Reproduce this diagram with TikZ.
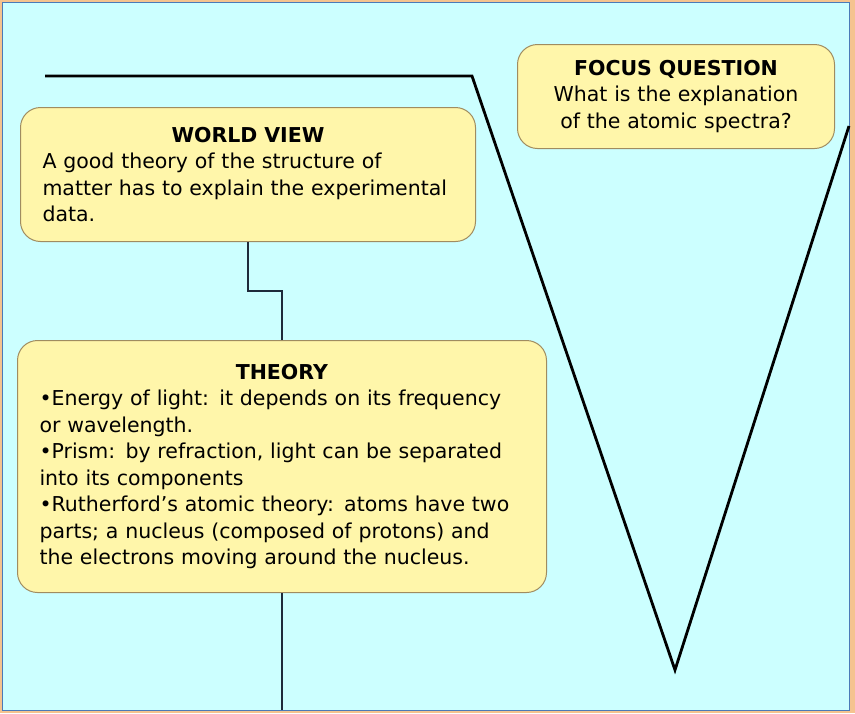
\documentclass[tikz,border=0pt]{standalone}
\usepackage{fontspec}
\setmainfont{DejaVu Sans}
\usetikzlibrary{positioning}

\definecolor{bgcyan}{HTML}{CCFFFF}
\definecolor{frameorange}{HTML}{F5C38F}
\definecolor{frameblue}{HTML}{4A7AB8}
\definecolor{boxfill}{HTML}{FFF6AA}
\definecolor{boxline}{HTML}{A08C60}
\definecolor{linkline}{HTML}{1E2A3A}

\tikzset{
  vebox/.style={draw=boxline,fill=boxfill,line width=1pt,rounded corners=20pt,
    inner xsep=22pt,inner ysep=6pt,font=\fontsize{20.5}{26.5}\selectfont},
  link/.style={draw=linkline,line width=1.4pt},
  vline/.style={draw=black,line width=2.8pt,line join=miter}
}

\begin{document}
\begin{tikzpicture}[x=1pt,y=-1pt]
  \useasboundingbox (0,0) rectangle (855,713);
  % frame
  \fill[frameorange] (0,0) rectangle (855,713);
  \draw[frameblue,line width=1.5pt,fill=bgcyan] (2.5,2.5) rectangle (849.5,710.5);

  % the V
  \coordinate (vleft) at (45,76);
  \coordinate (vtop) at (472,76);
  \coordinate (vtip) at (675,670);
  \coordinate (vright) at (849,126);
  \draw[vline] (vleft) -- (vtop) -- (vtip) -- (vright);

  % boxes
  \node[vebox,anchor=north west,text width=273pt,minimum height=104pt,align=center]
    (focus) at (517,44) {\textbf{FOCUS QUESTION}\\What is the explanation\\of the atomic spectra?};
  \node[vebox,anchor=north west,text width=411pt,minimum height=134pt]
    (world) at (20,107) {{\centering\textbf{WORLD VIEW}\par}\raggedright
    A good theory of the structure of\\ matter has to explain the experimental\\ data.};
  \node[vebox,anchor=north west,text width=485pt,minimum height=252pt]
    (theory) at (17,340) {{\centering\textbf{THEORY}\par}\raggedright
    •Energy of light: it depends on its frequency\\ or wavelength.\\
    •Prism: by refraction, light can be separated\\ into its components\\
    •Rutherford’s atomic theory: atoms have two\\ parts; a nucleus (composed of protons) and\\ the electrons moving around the nucleus.};

  % links
  \coordinate (bottom) at (theory.south |- 0,710);
  \draw[link] (world.south) -- ++(0,49) -| (theory.north);
  \draw[link] (theory.south) -- (bottom);
\end{tikzpicture}
\end{document}
